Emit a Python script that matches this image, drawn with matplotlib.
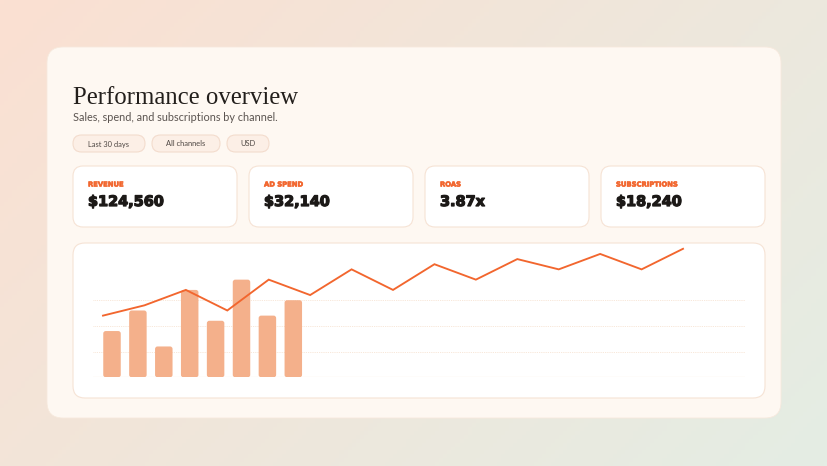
import numpy as np
import matplotlib
matplotlib.use("Agg")
import matplotlib.pyplot as plt
import matplotlib.patheffects as pe
from matplotlib.patches import FancyBboxPatch

# data
pills = ["Last 30 days", "All channels", "USD"]
kpi_labels = ["REVENUE", "AD SPEND", "ROAS", "SUBSCRIPTIONS"]
kpi_values = ["$124,560", "$32,140", "3.87x", "$18,240"]
line_values = [48, 56, 68, 52, 76, 64, 84, 68, 88, 76, 92, 84, 96, 84, 100]
bar_values = [36, 52, 24, 68, 44, 76, 48, 60]
grid_ticks = [0, 20, 40, 60]

ORANGE = "#f2662e"
BAR = "#f4b08b"
W, H = 828, 466

fig = plt.figure(figsize=(W / 100, H / 100), dpi=100)
bg = fig.add_axes([0, 0, 1, 1])
bg.set_xlim(0, W)
bg.set_ylim(H, 0)
bg.axis("off")

# diagonal background gradient, peach -> pale green
c1 = np.array([251, 224, 210]) / 255
c2 = np.array([228, 237, 228]) / 255
yy, xx = np.mgrid[0:1:120j, 0:1:200j]
t = np.clip((xx * 0.65 + yy * 0.35), 0, 1)[..., None]
bg.imshow(c1 * (1 - t) + c2 * t, extent=[0, W, H, 0], aspect="auto", zorder=0)


def rbox(x0, y0, x1, y1, r, fc, ec, lw=0.8, z=1):
    p = FancyBboxPatch((x0 + r, y0 + r), x1 - x0 - 2 * r, y1 - y0 - 2 * r,
                       boxstyle=f"round,pad={r}", fc=fc, ec=ec, lw=lw, zorder=z)
    bg.add_patch(p)


# main card
rbox(47, 47, 781, 418, 16, "#fef8f2", "#f7e9dd", 0.6)

bg.text(73, 104, "Performance overview", fontsize=17.8, family="Liberation Serif",
        color="#231f1c", va="baseline", zorder=3)
bg.text(73, 121, "Sales, spend, and subscriptions by channel.", fontsize=7.85,
        family="Lato", color="#5b5450", va="baseline", zorder=3)

# pills
pill_x = [73, 152, 227]
pill_w = [72, 68, 42]
for x, w, lab in zip(pill_x, pill_w, pills):
    rbox(x, 135, x + w, 152, 8.5, "#fcefe6", "#f3dccd", 0.8, 2)
    bg.text(x + w / 2, 144, lab, fontsize=5.4, family="Lato", color="#4e4743",
            ha="center", va="center", zorder=3)

# KPI cards
thick = [pe.withStroke(linewidth=0.9, foreground="#1c1917")]
thin = [pe.withStroke(linewidth=0.4, foreground=ORANGE)]
for i, (lab, val) in enumerate(zip(kpi_labels, kpi_values)):
    x0 = 73 + i * 176
    rbox(x0, 166, x0 + 164, 227, 10, "white", "#f6e3d5", 0.8, 2)
    bg.text(x0 + 15, 186.5, lab, fontsize=4.9, family="DejaVu Sans",
            weight="bold", color=ORANGE, va="baseline", zorder=3,
            path_effects=thin)
    bg.text(x0 + 15, 206, val, fontsize=10.4, family="DejaVu Sans",
            weight="bold", color="#1c1917", va="baseline", zorder=3,
            path_effects=thick)

# chart card
rbox(73, 243, 765, 398, 12, "white", "#f6e3d5", 0.8, 2)

# plot area (pixel bounds of the gridlines)
px0, px1 = 93, 745
py_top, py_base = 248.8, 377.3
rect = [px0 / W, (H - py_base) / H, (px1 - px0) / W, (py_base - py_top) / H]
ax = fig.add_axes(rect, zorder=3)
ax.patch.set_alpha(0)
ax.set_ylim(0, 100)
# line: first point 10px in, step 41.43px
step_l = 41.43
ax.set_xlim((px0 - 103) / step_l, (px1 - 103) / step_l)
for s in ax.spines.values():
    s.set_visible(False)
ax.set_xticks([])
ax.set_yticks([])
for g in grid_ticks:
    ax.axhline(g, color="#fbebdf" if g == 0 else "#f6dfcc",
               lw=0.9 if g == 0 else 0.6, ls="-" if g == 0 else (0, (1, 1.2)), zorder=0)

# bars on a twin x-scale
ax2 = ax.twiny()
ax2.patch.set_alpha(0)
step_b = 25.9
ax2.set_xlim((px0 - 112) / step_b, (px1 - 112) / step_b)
ax2.set_ylim(0, 100)
ax2.axis("off")
bars = ax2.bar(np.arange(len(bar_values)), bar_values, width=0.675, color=BAR)
for b in bars:
    x, y = b.get_xy()
    w, h = b.get_width(), b.get_height()
    b.set_visible(False)
    r = 2.5 / step_b
    asp = (2.5 * 100 / (py_base - py_top)) / r
    ax2.add_patch(FancyBboxPatch((x, y), w, h,
                                 boxstyle=f"round,pad=0,rounding_size={r}",
                                 mutation_aspect=asp, fc=BAR, ec="none", zorder=2))

ax3 = ax.twiny()
ax3.set_xlim(ax.get_xlim())
ax3.set_ylim(0, 100)
ax3.axis("off")
ax3.plot(np.arange(len(line_values)), line_values, color=ORANGE, lw=1.35,
         solid_joinstyle="miter", clip_on=False, zorder=5)

fig.savefig("out.png", dpi=100)
